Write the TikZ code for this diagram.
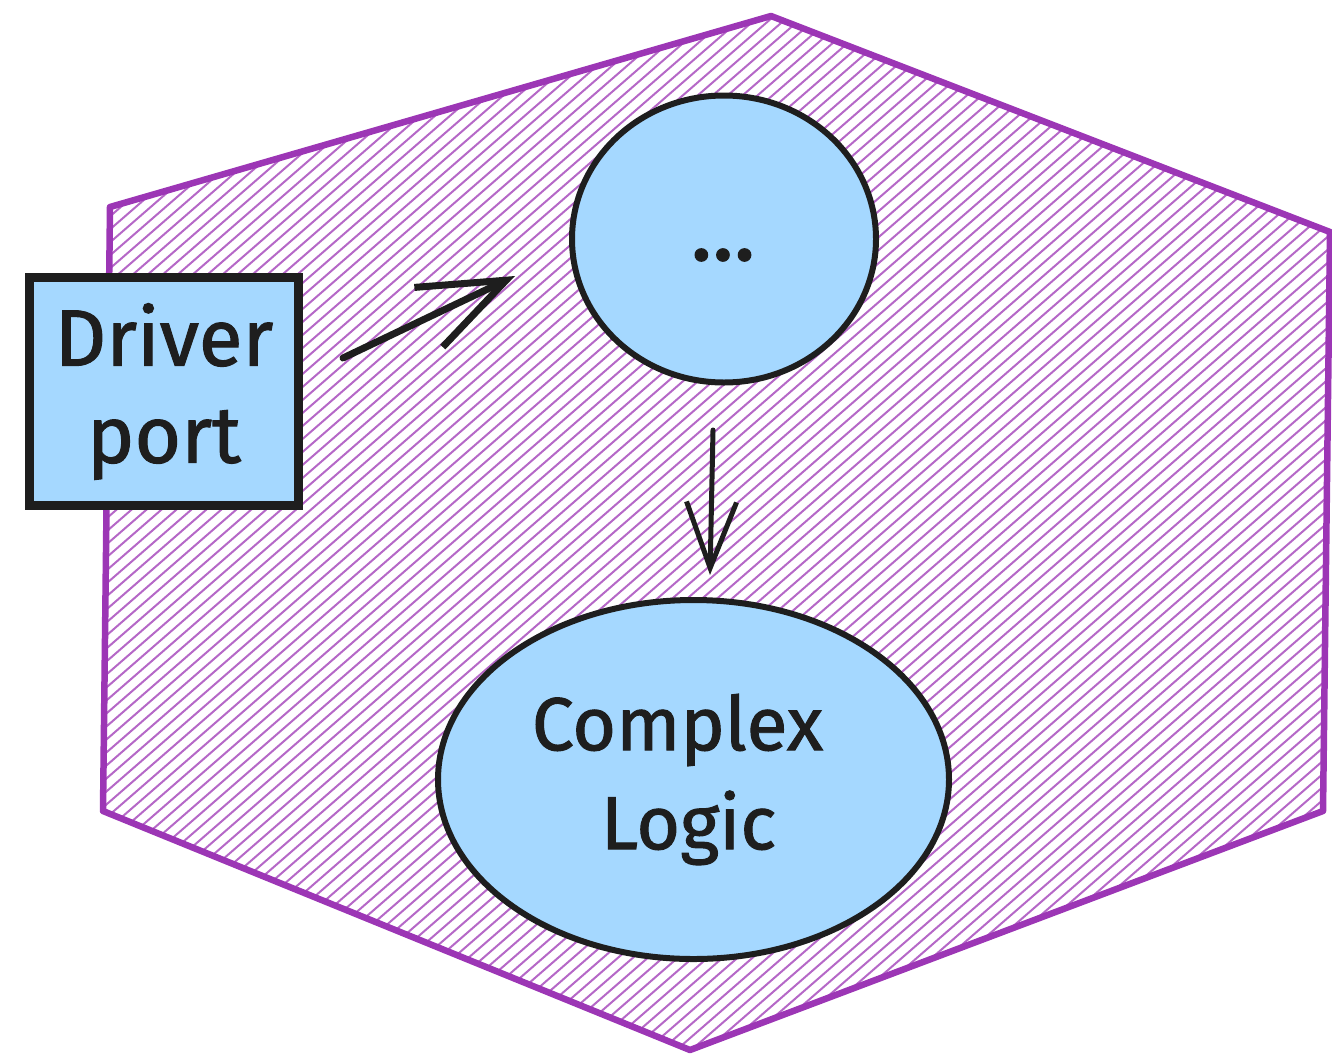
\documentclass[tikz,border=0pt]{standalone}
\usepackage{fontspec}
\setmainfont{Fira Sans}[UprightFeatures={FakeBold=1.3}]
\usetikzlibrary{shapes.geometric,arrows.meta}
\definecolor{violetline}{HTML}{9C36B5}
\definecolor{skyfill}{HTML}{A5D8FF}
\definecolor{inkline}{HTML}{1E1E1E}
\tikzset{
  hatchline/.style={draw=violetline!75, line width=2pt},
  hexedge/.style={draw=violetline, line width=6.5pt, line join=round},
  portbox/.style={rectangle, draw=inkline, fill=skyfill, line width=9pt,
    minimum width=269pt, minimum height=228pt, inner sep=0pt, align=center,
    text=inkline, font=\fontsize{80}{97}\selectfont},
  blob/.style={ellipse, draw=inkline, fill=skyfill, line width=6pt,
    inner sep=0pt, align=center, text=inkline,
    font=\fontsize{75}{99}\selectfont},
  flow/.style={draw=inkline, line cap=round, line join=round},
}
\begin{document}
\begin{tikzpicture}[x=1pt,y=-1pt]
\useasboundingbox (0,0) rectangle (1332,1055);

% hexagon corners
\coordinate (h1) at (771,16);
\coordinate (h2) at (1330,232);
\coordinate (h3) at (1323,811);
\coordinate (h4) at (690,1050);
\coordinate (h5) at (103,811);
\coordinate (h6) at (110,207);

% hachure fill of the hexagon
\begin{scope}
  \clip (h1) -- (h2) -- (h3) -- (h4) -- (h5) -- (h6) -- cycle;
  \foreach \c in {0,13,...,2250} {
    \draw[hatchline] (0,\c) -- (1332,\c-1158);
  }
\end{scope}
\draw[hexedge] (h1) -- (h2) -- (h3) -- (h4) -- (h5) -- (h6) -- cycle;

% shapes
\node[portbox] (port) at (164,391.5) {Driver\\port};
\node[blob, minimum width=304pt, minimum height=287pt] (stage) at (724,239) {};
\node[text=inkline, font=\fontsize{90}{90}\selectfont, inner sep=0pt] (stagelabel) at (723,255) {...};
\node[blob, minimum width=511pt, minimum height=359pt] (core) at (693.5,779.5)
  {\hspace*{-32pt}Complex\\\hspace*{-10pt}Logic};

% connectors
\coordinate (a1s) at (343,358);
\coordinate (a1e) at (515,276);
\draw[flow, line width=7pt, -{Straight Barb[length=86pt,width=66pt]}] (a1s) -- (a1e);

\coordinate (a2s) at (713,430);
\coordinate (a2e) at (710,575);
\draw[flow, line width=5pt, -{Straight Barb[length=66pt,width=50pt]}] (a2s) -- (a2e);
\end{tikzpicture}
\end{document}
